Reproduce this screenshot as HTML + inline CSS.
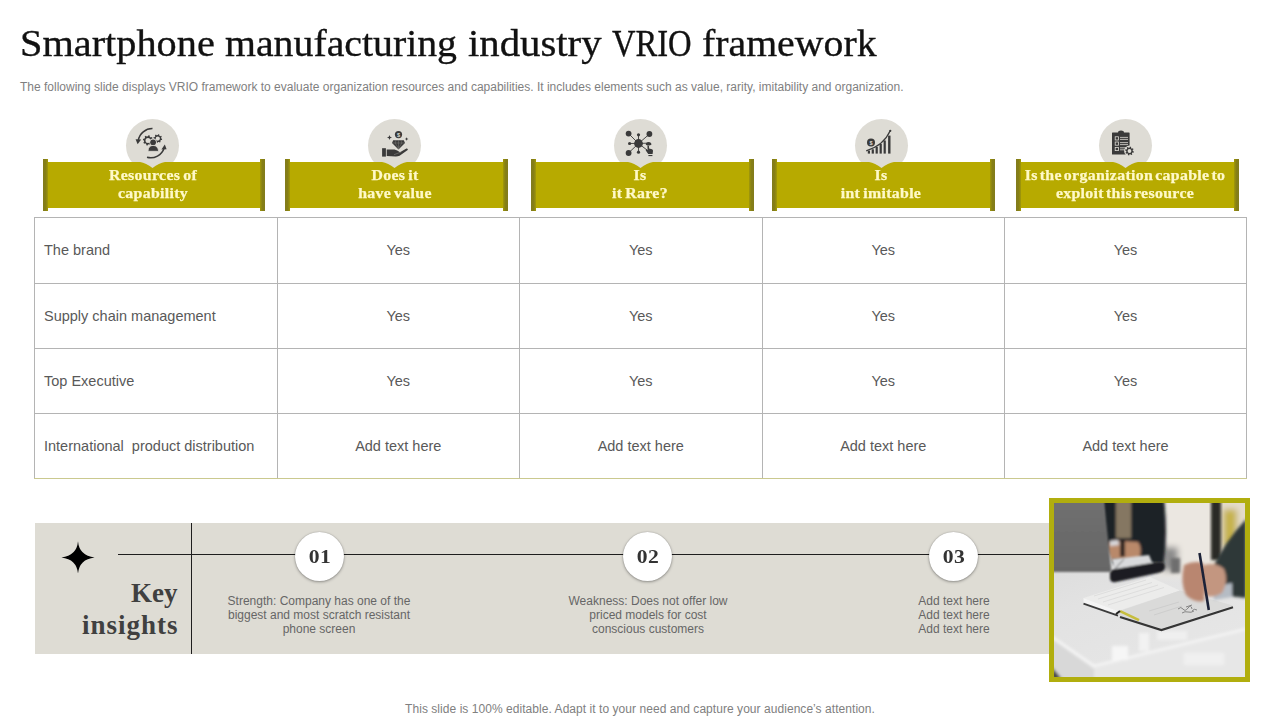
<!DOCTYPE html>
<html><head><meta charset="utf-8">
<style>
*{margin:0;padding:0;box-sizing:border-box}
html,body{width:1280px;height:720px;overflow:hidden;background:#fff}
body{position:relative;font-family:"Liberation Sans",sans-serif}
.abs{position:absolute}
.title{left:0;top:24px;width:1280px;height:40px;font-family:"Liberation Serif",serif;font-size:38px;line-height:38px;color:#111;white-space:nowrap;-webkit-text-stroke:0.35px #111}
.title span{position:absolute;top:0;transform-origin:0 0}
.sub{left:20px;top:81px;font-size:12px;line-height:12px;color:#7f7f7f;white-space:nowrap}
.hbox{position:absolute;top:162px;height:46px;background:#b7aa00}
.bar{position:absolute;top:159px;width:5px;height:52px;background:linear-gradient(90deg,#827c1c 0,#867f16 55%,#a29908 100%)}
.bar.r{background:linear-gradient(270deg,#827c1c 0,#867f16 55%,#a29908 100%)}
.circ{position:absolute;width:53px;height:53px;border-radius:50%;background:#dedcd5;top:119px}
.ptr{position:absolute;top:161.5px}
.htxt{position:absolute;top:167px;transform:scaleX(1.13);word-spacing:-1.2px;height:40px;font-family:"Liberation Serif",serif;font-weight:700;font-size:14px;line-height:18px;color:#fff9c8;text-align:center;white-space:nowrap;letter-spacing:0.3px;-webkit-text-stroke:0.25px #fff9c8}
.icon{position:absolute;top:125px;width:40px;height:40px}
table{position:absolute;left:34px;top:217px;border-collapse:collapse;width:1212px;table-layout:fixed}
td{border:1px solid #b4b4b4;height:65px;font-size:14.5px;color:#595959;text-align:center;padding-top:0;padding-bottom:1px}
td.l{text-align:left;padding-left:9px}
tr.r1 td{height:66px}
tr.r4 td{border-bottom-color:#cac98f}
.band{position:absolute;left:35px;top:523px;width:1014px;height:131px;background:#dedcd4}
.hline{position:absolute;left:118px;top:553.5px;width:931px;height:1.4px;background:#1e1e1e}
.vline{position:absolute;left:190.5px;top:523px;width:1.4px;height:131px;background:#1e1e1e}
.num{position:absolute;top:532px;width:49px;height:49px;border-radius:50%;background:#fff;box-shadow:0 1px 3px rgba(0,0,0,0.35),0 0 1px rgba(0,0,0,0.3);font-family:"Liberation Serif",serif;font-weight:700;font-size:18px;line-height:51px;text-align:center;color:#333;letter-spacing:0.5px;text-indent:0.5px}
.num span{display:inline-block;transform:scaleX(1.2)}
.itxt{position:absolute;top:595px;width:220px;font-size:12px;line-height:13.8px;color:#666;text-align:center}
.key{position:absolute;left:31.5px;top:578px;width:147px;text-align:right;font-family:"Liberation Serif",serif;font-weight:700;font-size:27px;line-height:31.5px;color:#404040;letter-spacing:1px}
.foot{position:absolute;left:0;width:1280px;top:703px;text-align:center;font-size:12px;line-height:12px;color:#808080;letter-spacing:0.05px}
.photo{position:absolute;left:1049px;top:498px;width:201px;height:184px;border:5px solid #b1ae0e;overflow:hidden;background:#dcdcdb}
</style></head><body>

<div class="abs title"><span style="left:19.9px;transform:scaleX(1.0608)">Smartphone</span><span style="left:224.75px;transform:scaleX(1.047)">manufacturing</span><span style="left:467.7px;transform:scaleX(1.072)">industry</span><span style="left:612.3px;transform:scaleX(0.857)">VRIO</span><span style="left:701.7px;transform:scaleX(1.047)">framework</span></div>
<div class="abs sub">The following slide displays VRIO framework to evaluate organization resources and capabilities. It includes elements such as value, rarity, imitability and organization.</div>

<!-- header circles -->
<div class="circ" style="left:126px"></div>
<div class="circ" style="left:368px"></div>
<div class="circ" style="left:614px"></div>
<div class="circ" style="left:855px"></div>
<div class="circ" style="left:1099px"></div>

<!-- header boxes -->
<div class="hbox" style="left:43px;width:222px"></div>
<div class="bar" style="left:43px"></div><div class="bar r" style="left:260px"></div>
<div class="hbox" style="left:285px;width:223px"></div>
<div class="bar" style="left:285px"></div><div class="bar r" style="left:503px"></div>
<div class="hbox" style="left:531px;width:223px"></div>
<div class="bar" style="left:531px"></div><div class="bar r" style="left:749px"></div>
<div class="hbox" style="left:772px;width:223px"></div>
<div class="bar" style="left:772px"></div><div class="bar r" style="left:990px"></div>
<div class="hbox" style="left:1016px;width:223px"></div>
<div class="bar" style="left:1016px"></div><div class="bar r" style="left:1234px"></div>

<svg class="ptr" style="left:140.0px" width="25" height="7" viewBox="0 0 25 7"><path d="M0 0 Q6 1 12.5 6 Q19 1 25 0Z" fill="#dedcd5"/></svg>
<svg class="ptr" style="left:382.0px" width="25" height="7" viewBox="0 0 25 7"><path d="M0 0 Q6 1 12.5 6 Q19 1 25 0Z" fill="#dedcd5"/></svg>
<svg class="ptr" style="left:628.0px" width="25" height="7" viewBox="0 0 25 7"><path d="M0 0 Q6 1 12.5 6 Q19 1 25 0Z" fill="#dedcd5"/></svg>
<svg class="ptr" style="left:869.0px" width="25" height="7" viewBox="0 0 25 7"><path d="M0 0 Q6 1 12.5 6 Q19 1 25 0Z" fill="#dedcd5"/></svg>
<svg class="ptr" style="left:1113.0px" width="25" height="7" viewBox="0 0 25 7"><path d="M0 0 Q6 1 12.5 6 Q19 1 25 0Z" fill="#dedcd5"/></svg>

<div class="htxt" style="left:52.5px;width:200px">Resources of<br>capability</div>
<div class="htxt" style="left:295px;width:200px">Does it<br>have value</div>
<div class="htxt" style="left:540px;width:200px">Is<br>it Rare?</div>
<div class="htxt" style="left:781px;width:200px">Is<br>int imitable</div>
<div class="htxt" style="left:1025px;width:200px;word-spacing:-2px">Is the organization capable to<br>exploit this resource</div>

<!-- icons -->
<svg class="icon" style="left:132px" viewBox="0 0 40 40">
<g fill="none" stroke="#3a3a3a" stroke-width="1.5">
<path d="M20.5 3.6 A14.2 14.2 0 0 0 6.3 15.2"/>
<path d="M15 32.3 A14.2 14.2 0 0 0 32.2 23"/>
</g>
<g fill="#3a3a3a">
<path d="M3.6 14.2 L9.2 14.6 L5.6 19.2Z"/>
<path d="M29.4 24.6 L34.6 24.2 L32.8 19.4Z"/>
<path fill-rule="evenodd" d="M20.10 15.40 L21.08 15.80 L20.78 17.17 L19.72 17.12 L18.90 18.30 L19.31 19.28 L18.14 20.03 L17.42 19.25 L16.00 19.50 L15.60 20.48 L14.23 20.18 L14.28 19.12 L13.10 18.30 L12.12 18.71 L11.37 17.54 L12.15 16.82 L11.90 15.40 L10.92 15.00 L11.22 13.63 L12.28 13.68 L13.10 12.50 L12.69 11.52 L13.86 10.77 L14.58 11.55 L16.00 11.30 L16.40 10.32 L17.77 10.62 L17.72 11.68 L18.90 12.50 L19.88 12.09 L20.63 13.26 L19.85 13.98Z M18.50 15.40 A2.5 2.5 0 1 0 13.50 15.40 A2.5 2.5 0 1 0 18.50 15.40Z"/>
<path fill-rule="evenodd" d="M29.30 13.60 L30.19 13.95 L29.93 15.12 L28.98 15.07 L28.27 16.07 L28.66 16.95 L27.64 17.60 L27.01 16.88 L25.80 17.10 L25.45 17.99 L24.28 17.73 L24.33 16.78 L23.33 16.07 L22.45 16.46 L21.80 15.44 L22.52 14.81 L22.30 13.60 L21.41 13.25 L21.67 12.08 L22.62 12.13 L23.33 11.13 L22.94 10.25 L23.96 9.60 L24.59 10.32 L25.80 10.10 L26.15 9.21 L27.32 9.47 L27.27 10.42 L28.27 11.13 L29.15 10.74 L29.80 11.76 L29.08 12.39Z M27.90 13.60 A2.1 2.1 0 1 0 23.70 13.60 A2.1 2.1 0 1 0 27.90 13.60Z"/>
<circle cx="21.1" cy="17.3" r="3.7" fill="#dedcd5"/>
<circle cx="21.1" cy="17.3" r="2.9"/>
<path d="M16 26.3 Q16.2 20.4 21.1 20.4 Q26 20.4 26.7 26.3Z" stroke="#dedcd5" stroke-width="0.8"/>
</g>
</svg>
<svg class="icon" style="left:375px" viewBox="0 0 40 40">
<g fill="#3a3a3a">
<circle cx="23.5" cy="9.6" r="3.6"/>
<path d="M18.2 15.2 L28.8 15.2 L30 18 L23.5 24.6 L17 18Z"/>
<path d="M14.5 10 L15.2 11.8 L17 12.5 L15.2 13.2 L14.5 15 L13.8 13.2 L12 12.5 L13.8 11.8Z"/>
<path d="M31.6 12.2 L32.2 13.4 L33.4 14 L32.2 14.6 L31.6 15.8 L31 14.6 L29.8 14 L31 13.4Z"/>
<rect x="7.1" y="23.2" width="3.8" height="8.4"/>
<path d="M11.7 24.4 L19.5 24.4 Q22.2 24.8 25 27.2 L31.4 23.5 Q33.5 23.3 32.7 25 L24.6 30.7 Q22.6 31.5 20.5 31.4 L11.7 30.9Z"/>
<path d="M19 29.7 L26.2 27" stroke="#8c8b86" stroke-width="0.5"/>
</g>
<g fill="none" stroke="#8c8b86" stroke-width="0.4">
<path d="M17.4 18 L29.6 18 M21 15.2 L20.2 18 L23.5 23.6 L26.8 18 L26 15.2 M23.5 15.2 L23.5 23.6"/>
</g>
<text x="23.5" y="11.6" font-family="Liberation Sans" font-weight="700" font-size="5.6" fill="#dedcd5" text-anchor="middle">$</text>
</svg>
<svg class="icon" style="left:620px" viewBox="0 0 40 40">
<g fill="none" stroke="#3a3a3a" stroke-width="0.9">
<path d="M8.5 8.5 L18.5 18.5 L29.5 9 M8.5 28 L18.5 18.5 L27 25 M18.5 10 L18.5 27 M9.5 18.5 L28.5 18.2"/>
</g>
<g fill="#3a3a3a">
<circle cx="18.5" cy="18.5" r="4.4"/>
<circle cx="8.6" cy="8.6" r="2.9"/>
<circle cx="29.4" cy="9" r="2.9"/>
<circle cx="8.6" cy="28" r="2.9"/>
<circle cx="18.5" cy="9.8" r="1.6"/>
<circle cx="9.6" cy="18.5" r="1.6"/>
<circle cx="18.5" cy="27.2" r="1.6"/>
<path d="M25.8 19.8 A2.8 2.8 0 0 1 31.4 19.8 L29.4 20.4 L27.4 20.6Z"/>
<path d="M27.4 20.8 Q28.6 20.2 29 21.2 L29.1 23.4 L32 24.2 Q33.2 24.6 33 26 L32.6 29 L28.2 29 L25.8 25.6 Q25.4 24.4 26.6 24.3 L27.6 25Z"/>
<rect x="28.4" y="30" width="4" height="1.1"/>
</g>
</svg>
<svg class="icon" style="left:862px" viewBox="0 0 40 40">
<g fill="#3a3a3a">
<circle cx="9" cy="17.5" r="4"/>
<rect x="5.8" y="25.6" width="2.2" height="3"/>
<rect x="9.7" y="24.3" width="2.2" height="4.3"/>
<rect x="13.6" y="21.8" width="2.2" height="6.8"/>
<rect x="17.6" y="18.9" width="2.2" height="9.7"/>
<rect x="21.6" y="15.5" width="2.2" height="13.1"/>
<rect x="26.1" y="10.6" width="2.4" height="18"/>
<circle cx="28.3" cy="5.8" r="1.1"/>
</g>
<path d="M4.2 25.8 Q21.7 20.6 28.3 5.6" fill="none" stroke="#3a3a3a" stroke-width="1.2"/>
<text x="9" y="19.5" font-family="Liberation Sans" font-weight="700" font-size="5.6" fill="#dedcd5" text-anchor="middle">$</text>
</svg>
<svg class="icon" style="left:1105px" viewBox="0 0 40 40">
<g fill="#3a3a3a">
<rect x="7" y="7.4" width="17.6" height="22.2" rx="0.6"/>
<path d="M12.8 8.4 L13.4 6.2 Q16 4.6 18.6 6.2 L19.2 8.4Z"/>
</g>
<g fill="none" stroke="#dedcd5" stroke-width="0.8">
<rect x="10.2" y="11.8" width="3.2" height="3.2"/>
<rect x="10.2" y="17" width="3.2" height="3.2"/>
<rect x="10.2" y="22.4" width="3.2" height="3.2"/>
<path d="M15 12.4 L23 12.4 M15 14.4 L23 14.4 M15 17.6 L23 17.6 M15 19.6 L23 19.6 M15 22.8 L21 22.8 M15 24.8 L20 24.8"/>
</g>
<g fill="#3a3a3a">
<rect x="11.2" y="12.8" width="1.2" height="1.2"/>
<rect x="11.2" y="18" width="1.2" height="1.2"/>
<rect x="11.2" y="23.4" width="1.2" height="1.2"/>
</g>
<circle cx="24.5" cy="26" r="5.4" fill="#dedcd5"/>
<path fill="#3a3a3a" fill-rule="evenodd" d="M27.80 26.00 L28.88 26.41 L28.57 27.68 L27.42 27.54 L26.83 28.33 L27.30 29.39 L26.18 30.07 L25.47 29.15 L24.50 29.30 L24.09 30.38 L22.82 30.07 L22.96 28.92 L22.17 28.33 L21.11 28.80 L20.43 27.68 L21.35 26.97 L21.20 26.00 L20.12 25.59 L20.43 24.32 L21.58 24.46 L22.17 23.67 L21.70 22.61 L22.82 21.930 L23.53 22.85 L24.50 22.70 L24.91 21.62 L26.18 21.93 L26.04 23.08 L26.83 23.67 L27.89 23.20 L28.57 24.32 L27.65 25.03Z M26.40 26.00 A1.9 1.9 0 1 0 22.60 26.00 A1.9 1.9 0 1 0 26.40 26.00Z"/>
</svg>

<table>
<colgroup><col style="width:242.5px"><col style="width:242.5px"><col style="width:242.5px"><col style="width:242.5px"><col style="width:242px"></colgroup>
<tr class="r1"><td class="l">The brand</td><td>Yes</td><td>Yes</td><td>Yes</td><td>Yes</td></tr>
<tr><td class="l">Supply chain management</td><td>Yes</td><td>Yes</td><td>Yes</td><td>Yes</td></tr>
<tr><td class="l">Top Executive</td><td>Yes</td><td>Yes</td><td>Yes</td><td>Yes</td></tr>
<tr class="r4"><td class="l">International&nbsp; product distribution</td><td>Add text here</td><td>Add text here</td><td>Add text here</td><td>Add text here</td></tr>
</table>

<div class="band"></div>
<div class="hline"></div>
<div class="vline"></div>
<svg class="abs" style="left:58px;top:538px" width="40" height="40" viewBox="0 0 40 40">
<path fill="#000" d="M20 3.2 Q21.2 17.6 36.6 19.4 Q21.2 21.2 20 35.6 Q18.8 21.2 3.4 19.4 Q18.8 17.6 20 3.2Z"/>
</svg>
<div class="num" style="left:295px"><span>01</span></div>
<div class="num" style="left:623px"><span>02</span></div>
<div class="num" style="left:929px"><span>03</span></div>
<div class="itxt" style="left:209px">Strength: Company has one of the<br>biggest and most scratch resistant<br>phone screen</div>
<div class="itxt" style="left:538px">Weakness: Does not offer low<br>priced models for cost<br>conscious customers</div>
<div class="itxt" style="left:844px">Add text here<br>Add text here<br>Add text here</div>
<div class="key"><span style="letter-spacing:0;padding-right:1px">Key</span><br>insights</div>

<div class="photo"><svg width="191" height="174" viewBox="0 0 191 174" style="display:block">
<defs>
<filter id="b1" x="-20%" y="-20%" width="140%" height="140%"><feGaussianBlur stdDeviation="1.5"/></filter>
<filter id="b2" x="-20%" y="-20%" width="140%" height="140%"><feGaussianBlur stdDeviation="0.9"/></filter>
<filter id="b4" x="-20%" y="-20%" width="140%" height="140%"><feGaussianBlur stdDeviation="0.45"/></filter>
<filter id="b3" x="-30%" y="-30%" width="160%" height="160%"><feGaussianBlur stdDeviation="3"/></filter>
<linearGradient id="desk" x1="0" y1="0" x2="0.4" y2="1"><stop offset="0" stop-color="#d6d6d6"/><stop offset="0.55" stop-color="#e2e2e2"/><stop offset="1" stop-color="#e6e6e6"/></linearGradient>
<linearGradient id="lap" x1="0" y1="0" x2="0" y2="1"><stop offset="0" stop-color="#707070"/><stop offset="1" stop-color="#666666"/></linearGradient>
</defs>
<rect width="191" height="174" fill="url(#desk)"/>
<g filter="url(#b3)">
<rect x="104" y="-6" width="60" height="80" fill="#ebe7e1"/>
<rect x="160" y="-6" width="40" height="70" fill="#e4dccb"/>
<rect x="169" y="6" width="14" height="38" fill="#c6b24a"/>
<rect x="108" y="44" width="16" height="24" fill="#8c8c8c"/>
</g>
<rect x="157" y="-3" width="10" height="60" fill="#2c2b26" filter="url(#b1)"/>
<g filter="url(#b1)">
<path d="M48 -5 L110 -5 Q114 30 110 60 L60 62 L50 40Z" fill="#1e2027"/>
<rect x="62" y="-5" width="15" height="40" fill="#857762"/>
<path d="M54 40 Q58 36 66 38 L70 38 L84 39 Q89 45 85 56 L58 56 Q53 50 54 40Z" fill="#b9896a"/>
<rect x="66" y="38" width="5" height="16" fill="#231f1c"/>
<path d="M56 38 L64 37 L65 42 L56 43Z" fill="#d8d8dc"/>
</g>
<g filter="url(#b2)">
<path d="M58 56 L95 52 L100 64 L61 70Z" fill="#d9dadc"/>
<path d="M60 67 L70 56" stroke="#5a5a5a" stroke-width="1"/>
<path d="M56 72 Q55 67 61 66 L103 59 Q111 58 111 63 L111 65 Q110 69 104 70 L62 79 Q56 80 56 75Z" fill="#1d1e21"/>
</g>
<path d="M-2 -2 L50 -2 L57.5 69 L-2 69Z" fill="url(#lap)" filter="url(#b2)"/>
<g filter="url(#b1)">
<path d="M-2 132 L40 162 L192 124 L192 176 L-2 176Z" fill="#e7e7e7"/>
<path d="M-2 134 L40 163 L192 126" fill="none" stroke="#f7f7f7" stroke-width="2.2"/>
<path d="M-2 136 L40 166 L40 176 L-2 176Z" fill="#d8d8d8"/>
<rect x="58" y="143" width="16" height="14" fill="#f6f6f6"/>
<rect x="85" y="130" width="10" height="18" fill="#f2f2f2"/>
<rect x="103" y="128" width="30" height="9" fill="#efefef"/>
<rect x="130" y="150" width="40" height="12" fill="#f0f0f0"/>
<path d="M-2 164 L8 176 L-2 176Z" fill="#4a4a4a"/>
</g>
<g filter="url(#b4)">
<path d="M29.5 95 L96 74 L126 87.5 L64 108Z" fill="#ececeb"/>
<path d="M29.5 95 L64 108 L64 112.5 L29.5 100.5Z" fill="#f4f4f4"/>
<path d="M64 108.5 L126 87.5 L179 102.5 L107.4 125.5 L66 113Z" fill="#dadad9"/>
<path d="M29.5 100.6 L64 112.6" stroke="#3b3b3b" stroke-width="1.8"/>
<path d="M66 114 L107.4 127 L179 104.2" fill="none" stroke="#353535" stroke-width="2.2"/>
<path d="M66 108.2 L85 117.2" stroke="#c6bd3c" stroke-width="2.6"/>
<path d="M62 111 L66 108" stroke="#222" stroke-width="2"/>
<path d="M40 93 L92 77 M44 96 L98 79.5 M49 99 L104 82 M54 102 L110 84.5" stroke="#d4d4d4" stroke-width="0.6"/>
<path d="M124 106 q3 -3 5 0 t5 -1 t4 1 M128 110 q3 -2 6 -1 t6 -1 M132 104 l6 -2 M138 108 q2 -3 5 -1" stroke="#6f6f6f" stroke-width="0.8" fill="none"/>
<path d="M95 108 L125 99 M100 112 L128 103" stroke="#c4c4c4" stroke-width="0.6"/>
</g>
<g filter="url(#b1)">
<path d="M192 16 L192 95 L174 93 L159 64 Q170 40 192 16Z" fill="#2d3839"/>
<path d="M158 84 L178 80 L178 94 L160 97Z" fill="#b5bcc4"/>
<path d="M130 62 Q140 57 149 60 Q152 75 150 98 Q140 100 132 92 Q126 80 130 62Z" fill="#b98670"/>
<path d="M150 62 Q162 59 170 66 Q175 78 168 90 Q160 95 152 93 Q149 78 150 62Z" fill="#c39680"/>
<rect x="117" y="55" width="9" height="15" fill="#6e6e6e"/>
</g>
<path d="M145.5 50 L154.8 107" stroke="#1e2438" stroke-width="2.6" filter="url(#b4)"/>
</svg></div>

<div class="foot">This slide is 100% editable. Adapt it to your need and capture your audience’s attention.</div>
</body></html>
